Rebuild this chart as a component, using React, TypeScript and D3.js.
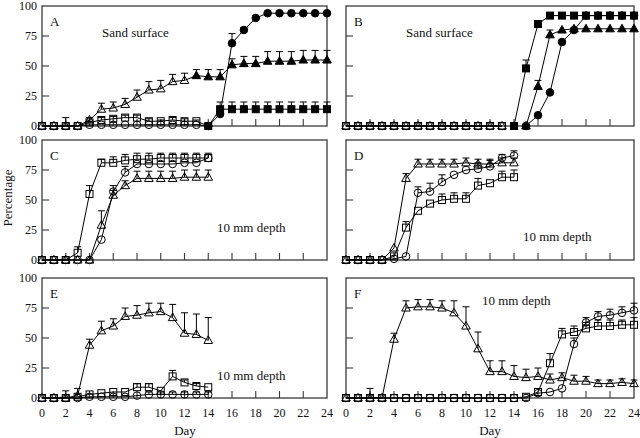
import React from 'react';
import * as d3 from 'd3';

// ---------- data ----------
const xTickValues = [0, 2, 4, 6, 8, 10, 12, 14, 16, 18, 20, 22, 24];
const yTickValues = [0, 25, 50, 75, 100];

// Panel A (days 0-24, open markers become filled after transfer)
const aTriangle = [0, 0, 0, 0, 5, 14, 15, 18, 24, 30, 31, 37, 38, 42, 41, 41, 51, 52, 52, 54, 54, 54, 55, 55, 55];
const aTriangleErr = [0, 0, 7, 0, 2, 5, 5, 5, 6, 7, 7, 6, 6, 5, 6, 6, 5, 6, 6, 8, 8, 8, 8, 8, 8];
const aCircle = [0, 0, 0, 0, 1, 1, 1, 1, 1, 1, 1, 1, 1, 1, 0, 10, 69, 80, 90, 94, 94, 94, 94, 94, 94];
const aCircleErr = [0, 0, 0, 0, 0, 0, 0, 0, 0, 0, 0, 0, 0, 0, 0, 0, 8, 2, 0, 0, 0, 0, 0, 0, 0];
const aSquare = [0, 0, 0, 0, 3, 5, 6, 7, 7, 4, 4, 5, 4, 4, 0, 14, 14, 14, 14, 14, 14, 14, 14, 14, 14];
const aSquareErr = [0, 0, 0, 0, 1, 2, 2, 2, 2, 2, 1, 2, 2, 1, 0, 6, 6, 6, 6, 6, 6, 6, 6, 6, 6];

// Panel B
const bOpen = [0, 0, 0, 0, 0, 0, 0, 0, 0, 0, 0, 0, 0, 0];
const bOpenErr = [0, 0, 0, 0, 0, 0, 0, 0, 0, 0, 0, 0, 0, 0];
const bSquare = [0, 48, 85, 92, 92, 92, 92, 92, 92, 92, 92];
const bSquareErr = [0, 7, 0, 0, 0, 0, 0, 0, 0, 0, 0];
const bTriangle = [0, 33, 76, 80, 81, 81, 81, 81, 81, 81];
const bTriangleErr = [0, 5, 4, 0, 0, 0, 0, 0, 0, 0];
const bCircle = [0, 9, 28, 70, 80, 92, 92, 92, 92, 92];
const bCircleErr = [0, 0, 0, 0, 0, 0, 0, 0, 0, 0];

// Panel C (days 0-14)
const cSquare = [0, 0, 0, 6, 55, 81, 81, 83, 84, 84, 85, 85, 85, 85, 85];
const cSquareErr = [0, 0, 0, 5, 7, 3, 5, 5, 5, 5, 4, 4, 4, 4, 4];
const cCircle = [0, 0, 0, 0, 0, 17, 57, 73, 80, 80, 80, 80, 81, 81, 85];
const cCircleErr = [0, 0, 0, 0, 0, 0, 5, 5, 0, 0, 0, 0, 0, 0, 3];
const cTriangle = [0, 0, 0, 0, 0, 29, 54, 62, 68, 68, 68, 68, 69, 69, 69];
const cTriangleErr = [0, 0, 0, 0, 0, 12, 4, 4, 6, 6, 6, 6, 6, 6, 6];

// Panel D (days 0-14)
const dTriangle = [0, 0, 0, 0, 10, 68, 80, 80, 80, 80, 81, 80, 80, 81, 81];
const dTriangleErr = [0, 0, 0, 0, 0, 4, 4, 4, 4, 4, 4, 4, 4, 4, 4];
const dCircle = [0, 0, 0, 0, 1, 3, 56, 57, 65, 71, 75, 76, 78, 85, 87];
const dCircleErr = [0, 0, 0, 0, 0, 0, 5, 7, 6, 0, 0, 5, 5, 3, 4];
const dSquare = [0, 0, 0, 0, 3, 27, 41, 47, 50, 51, 51, 62, 64, 69, 69];
const dSquareErr = [0, 0, 0, 0, 0, 5, 0, 0, 5, 5, 5, 6, 0, 5, 6];

// Panel E (days 0-14)
const eTriangle = [0, 0, 0, 2, 44, 56, 60, 68, 69, 71, 72, 67, 54, 53, 48];
const eTriangleErr = [0, 0, 6, 6, 5, 8, 6, 7, 8, 8, 7, 11, 17, 17, 19];
const eSquare = [0, 0, 0, 1, 3, 4, 5, 5, 9, 9, 6, 18, 13, 10, 9];
const eSquareErr = [0, 0, 0, 0, 0, 0, 0, 0, 3, 3, 0, 5, 2, 2, 0];
const eCircle = [0, 0, 0, 0, 1, 1, 1, 1, 2, 3, 3, 3, 3, 3, 3];
const eCircleErr = [0, 0, 0, 0, 0, 0, 0, 0, 0, 2, 2, 2, 2, 2, 2];

// Panel F (days 0-24)
const fTriangle = [0, 0, 0, 0, 49, 75, 76, 76, 75, 71, 60, 41, 22, 22, 18, 17, 18, 15, 17, 14, 14, 12, 12, 13, 12];
const fTriangleErr = [0, 0, 8, 0, 5, 6, 6, 6, 6, 10, 16, 14, 9, 9, 9, 7, 7, 5, 4, 5, 4, 3, 3, 3, 3];
const fSquare = [0, 0, 0, 0, 0, 0, 0, 0, 0, 0, 0, 0, 0, 0, 0, 1, 5, 29, 53, 55, 58, 60, 60, 61, 61];
const fSquareErr = [0, 0, 0, 0, 0, 0, 0, 0, 0, 0, 0, 0, 0, 0, 0, 0, 0, 8, 5, 5, 5, 5, 5, 4, 6];
const fCircle = [0, 0, 0, 0, 0, 0, 0, 0, 0, 0, 0, 0, 0, 0, 0, 0, 4, 5, 8, 45, 63, 68, 69, 71, 73];
const fCircleErr = [0, 0, 0, 0, 0, 0, 0, 0, 0, 0, 0, 0, 0, 0, 0, 0, 0, 0, 0, 5, 4, 4, 5, 5, 6];

// ---------- types ----------
type Shape = 'circle' | 'square' | 'triangle';
interface Series {
  shape: Shape;
  start: number;
  values: number[];
  errs: number[];
  filledFrom: number;
}
const OPEN = 999;

const FONT = "'Liberation Serif', 'DejaVu Serif', 'Noto Serif', serif";

function Marker({ shape, x, y, filled }: { shape: Shape; x: number; y: number; filled: boolean }) {
  const fill = filled ? '#000' : 'none';
  const common = { fill, stroke: '#000', strokeWidth: 1 };
  if (shape === 'circle') return <circle cx={x} cy={y} r={3.8} {...common} />;
  if (shape === 'square') return <rect x={x - 3.5} y={y - 3.5} width={7} height={7} {...common} />;
  const h = 7.6;
  const w = 8.6;
  const p = `${x},${y - h * 0.6} ${x + w / 2},${y + h * 0.4} ${x - w / 2},${y + h * 0.4}`;
  return <polygon points={p} {...common} />;
}

interface PanelProps {
  x0: number;
  x1: number;
  y0: number;
  y1: number;
  letter: string;
  note: string;
  noteX: number;
  noteY: number;
  series: Series[];
  showX: boolean;
  showY: boolean;
}

function Panel({ x0, x1, y0, y1, letter, note, noteX, noteY, series, showX, showY }: PanelProps) {
  const xs = d3.scaleLinear().domain([0, 24]).range([x0, x1]);
  const ys = d3.scaleLinear().domain([0, 100]).range([y1, y0]);
  const line = d3
    .line<[number, number]>()
    .x((d) => xs(d[0]))
    .y((d) => ys(d[1]));
  const pts = (s: Series) => s.values.map((v, i) => [s.start + i, v] as [number, number]);
  return (
    <g>
      <rect x={x0} y={y0} width={x1 - x0} height={y1 - y0} fill="none" stroke="#3a3a3a" strokeWidth={1.3} />
      {yTickValues.map((t) => (
        <g key={'y' + t}>
          {t > 0 && t < 100 && <line x1={x0} x2={x0 + 7} y1={ys(t)} y2={ys(t)} stroke="#3a3a3a" strokeWidth={1.1} />}
          {showY && (
            <text x={x0 - 5} y={ys(t)} dy="0.35em" textAnchor="end" fontSize={12} fill="#111">
              {t}
            </text>
          )}
        </g>
      ))}
      {xTickValues.map((t) => (
        <g key={'x' + t}>
          {t > 0 && t < 24 && <line x1={xs(t)} x2={xs(t)} y1={y1} y2={y1 - 7} stroke="#3a3a3a" strokeWidth={1.1} />}
          {showX && (
            <text x={xs(t)} y={y1 + 19} textAnchor="middle" fontSize={12} fill="#111">
              {t}
            </text>
          )}
        </g>
      ))}
      {series.map((s, i) => (
        <path key={'l' + i} d={line(pts(s)) || ''} fill="none" stroke="#000" strokeWidth={1} />
      ))}
      {series.map((s, i) =>
        pts(s).map(([d, v]) => (
          <Marker key={`m${i}-${d}`} shape={s.shape} x={xs(d)} y={ys(v)} filled={d >= s.filledFrom} />
        ))
      )}
      {series.map((s, i) =>
        pts(s).map(([d, v], j) => {
          const e = s.errs[j];
          if (!e) return null;
          const x = xs(d);
          const yt = ys(v + e);
          return (
            <g key={`e${i}-${d}`}>
              <line x1={x} x2={x} y1={ys(v)} y2={yt} stroke="#000" strokeWidth={1} />
              <line x1={x - 3.5} x2={x + 3.5} y1={yt} y2={yt} stroke="#000" strokeWidth={1} />
            </g>
          );
        })
      )}
      <text x={x0 + 8} y={y0 + 20} fontSize={13} fill="#111">
        {letter}
      </text>
      <text x={noteX} y={noteY} fontSize={13} fill="#111">
        {note}
      </text>
    </g>
  );
}

export default function App() {
  const L = { x0: 42, x1: 327 };
  const R = { x0: 346, x1: 634 };
  const rows = [
    { y0: 6, y1: 126 },
    { y0: 140, y1: 260 },
    { y0: 278, y1: 398 },
  ];

  const seriesA: Series[] = [
    { shape: 'square', start: 0, values: aSquare, errs: aSquareErr, filledFrom: 14 },
    { shape: 'circle', start: 0, values: aCircle, errs: aCircleErr, filledFrom: 14 },
    { shape: 'triangle', start: 0, values: aTriangle, errs: aTriangleErr, filledFrom: 13 },
  ];
  const seriesB: Series[] = [
    { shape: 'circle', start: 0, values: bOpen, errs: bOpenErr, filledFrom: OPEN },
    { shape: 'square', start: 0, values: bOpen, errs: bOpenErr, filledFrom: OPEN },
    { shape: 'triangle', start: 0, values: bOpen, errs: bOpenErr, filledFrom: OPEN },
    { shape: 'square', start: 14, values: bSquare, errs: bSquareErr, filledFrom: 0 },
    { shape: 'triangle', start: 15, values: bTriangle, errs: bTriangleErr, filledFrom: 0 },
    { shape: 'circle', start: 15, values: bCircle, errs: bCircleErr, filledFrom: 0 },
  ];
  const seriesC: Series[] = [
    { shape: 'square', start: 0, values: cSquare, errs: cSquareErr, filledFrom: OPEN },
    { shape: 'circle', start: 0, values: cCircle, errs: cCircleErr, filledFrom: OPEN },
    { shape: 'triangle', start: 0, values: cTriangle, errs: cTriangleErr, filledFrom: OPEN },
  ];
  const seriesD: Series[] = [
    { shape: 'square', start: 0, values: dSquare, errs: dSquareErr, filledFrom: OPEN },
    { shape: 'circle', start: 0, values: dCircle, errs: dCircleErr, filledFrom: OPEN },
    { shape: 'triangle', start: 0, values: dTriangle, errs: dTriangleErr, filledFrom: OPEN },
  ];
  const seriesE: Series[] = [
    { shape: 'square', start: 0, values: eSquare, errs: eSquareErr, filledFrom: OPEN },
    { shape: 'circle', start: 0, values: eCircle, errs: eCircleErr, filledFrom: OPEN },
    { shape: 'triangle', start: 0, values: eTriangle, errs: eTriangleErr, filledFrom: OPEN },
  ];
  const seriesF: Series[] = [
    { shape: 'square', start: 0, values: fSquare, errs: fSquareErr, filledFrom: OPEN },
    { shape: 'circle', start: 0, values: fCircle, errs: fCircleErr, filledFrom: OPEN },
    { shape: 'triangle', start: 0, values: fTriangle, errs: fTriangleErr, filledFrom: OPEN },
  ];

  return (
    <svg
      width={640}
      height={438}
      style={{ position: 'absolute', left: 0, top: 0, background: '#fff', fontFamily: FONT }}
    >
      <rect width={640} height={438} fill="#fff" />
      <Panel {...L} {...rows[0]} letter="A" note="Sand surface" noteX={102} noteY={37} series={seriesA} showX={false} showY={true} />
      <Panel {...R} {...rows[0]} letter="B" note="Sand surface" noteX={406} noteY={37} series={seriesB} showX={false} showY={false} />
      <Panel {...L} {...rows[1]} letter="C" note="10 mm depth" noteX={217} noteY={232} series={seriesC} showX={false} showY={true} />
      <Panel {...R} {...rows[1]} letter="D" note="10 mm depth" noteX={523} noteY={241} series={seriesD} showX={false} showY={false} />
      <Panel {...L} {...rows[2]} letter="E" note="10 mm depth" noteX={217} noteY={380} series={seriesE} showX={true} showY={true} />
      <Panel {...R} {...rows[2]} letter="F" note="10 mm depth" noteX={482} noteY={305} series={seriesF} showX={true} showY={false} />
      <text transform="translate(12,198) rotate(-90)" textAnchor="middle" fontSize={13} fill="#111">
        Percentage
      </text>
      <text x={185} y={435} textAnchor="middle" fontSize={13} fill="#111">
        Day
      </text>
      <text x={490} y={435} textAnchor="middle" fontSize={13} fill="#111">
        Day
      </text>
    </svg>
  );
}
